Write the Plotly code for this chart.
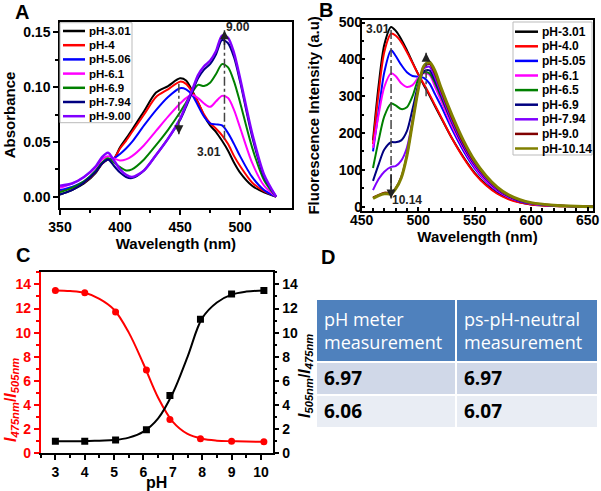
import plotly.graph_objects as go

W, H = 601, 491

# ---- panel A: absorbance spectra ----
wl_a = [350, 360, 370, 380, 385, 390, 395, 400, 405, 410, 420, 430, 440, 450,
        455, 460, 465, 470, 475, 480, 485, 490, 495, 500, 510, 520, 530]
ph_a = ["pH-3.01", "pH-4", "pH-5.06", "pH-6.1", "pH-6.9", "pH-7.94", "pH-9.00"]
abs_301 = [0.002, 0.006, 0.012, 0.022, 0.030, 0.034, 0.035, 0.045, 0.053, 0.061, 0.078, 0.095, 0.101, 0.108,
           0.106, 0.097, 0.086, 0.074, 0.065, 0.059, 0.051, 0.042, 0.031, 0.022, 0.010, 0.004, 0.0]
abs_4 = [0.005, 0.008, 0.013, 0.023, 0.030, 0.034, 0.035, 0.044, 0.051, 0.059, 0.075, 0.091, 0.098, 0.105,
         0.103, 0.096, 0.086, 0.075, 0.067, 0.062, 0.056, 0.048, 0.037, 0.028, 0.013, 0.005, 0.0]
abs_506 = [0.006, 0.009, 0.014, 0.024, 0.031, 0.034, 0.035, 0.039, 0.044, 0.050, 0.065, 0.079, 0.091, 0.099,
           0.098, 0.093, 0.083, 0.073, 0.067, 0.066, 0.065, 0.058, 0.048, 0.037, 0.018, 0.006, 0.0]
abs_61 = [0.008, 0.012, 0.018, 0.027, 0.034, 0.037, 0.035, 0.033, 0.034, 0.037, 0.047, 0.060, 0.073, 0.085,
          0.090, 0.093, 0.090, 0.085, 0.082, 0.087, 0.092, 0.090, 0.079, 0.063, 0.031, 0.010, 0.0]
abs_69 = [0.004, 0.008, 0.014, 0.024, 0.031, 0.035, 0.031, 0.027, 0.024, 0.025, 0.034, 0.047, 0.061, 0.077,
          0.086, 0.095, 0.102, 0.101, 0.104, 0.112, 0.121, 0.118, 0.105, 0.086, 0.045, 0.015, 0.0]
abs_794 = [0.002, 0.006, 0.013, 0.023, 0.030, 0.034, 0.028, 0.022, 0.018, 0.017, 0.024, 0.038, 0.053, 0.070,
           0.082, 0.095, 0.108, 0.116, 0.121, 0.130, 0.143, 0.140, 0.127, 0.105, 0.055, 0.018, 0.0]
abs_900 = [0.010, 0.012, 0.018, 0.028, 0.036, 0.040, 0.033, 0.025, 0.020, 0.018, 0.024, 0.038, 0.053, 0.071,
           0.084, 0.097, 0.111, 0.119, 0.124, 0.133, 0.147, 0.145, 0.131, 0.108, 0.058, 0.020, 0.0]
abs_all = [abs_301, abs_4, abs_506, abs_61, abs_69, abs_794, abs_900]
col_a = ["#000000", "#ff0000", "#0000ff", "#ff00ff", "#008000", "#000080", "#8000ff"]

# ---- panel B: fluorescence spectra ----
wl_b = [460, 465, 470, 476, 480, 485, 490, 495, 500, 505, 510, 515, 520,
        530, 540, 550, 560, 570, 580, 590, 600, 620, 640, 655]
ph_b = ["pH-3.01", "pH-4.0", "pH-5.05", "pH-6.1", "pH-6.5", "pH-6.9", "pH-7.94", "pH-9.0", "pH-10.14"]
fl_301 = [180, 330, 440, 488, 478, 455, 425, 392, 360, 330, 302, 272, 243, 185, 135, 92, 60, 37, 22, 12, 6, 2, 1, 0]
fl_40 = [170, 310, 420, 470, 465, 447, 420, 390, 360, 333, 305, 275, 245, 185, 133, 90, 58, 35, 20, 11, 6, 2, 1, 0]
fl_505 = [150, 260, 365, 425, 410, 385, 365, 355, 353, 350, 335, 305, 275, 210, 152, 104, 68, 42, 25, 14, 8, 3, 1, 0]
fl_61 = [160, 250, 325, 362, 355, 335, 325, 330, 350, 362, 358, 325, 290, 218, 158, 108, 70, 44, 26, 15, 8, 3, 1, 0]
fl_65 = [105, 180, 245, 280, 275, 265, 270, 300, 345, 365, 362, 335, 300, 228, 165, 115, 76, 48, 29, 17, 9, 3, 1, 0]
fl_69 = [70, 115, 155, 175, 175, 180, 205, 265, 330, 368, 370, 342, 305, 230, 165, 113, 75, 47, 28, 16, 9, 3, 1, 0]
fl_794 = [45, 75, 95, 108, 110, 125, 160, 235, 320, 375, 380, 350, 310, 232, 168, 115, 76, 48, 29, 17, 9, 3, 1, 0]
fl_90 = [25, 32, 38, 38, 50, 80, 140, 230, 320, 380, 388, 360, 318, 240, 173, 120, 80, 50, 30, 18, 10, 4, 1, 0]
fl_1014 = [22, 30, 35, 35, 48, 78, 138, 228, 318, 382, 393, 368, 325, 248, 180, 125, 84, 53, 32, 19, 11, 4, 1, 0]
fl_all = [fl_301, fl_40, fl_505, fl_61, fl_65, fl_69, fl_794, fl_90, fl_1014]
col_b = ["#000000", "#ff0000", "#0000ff", "#ff00ff", "#008000", "#000080", "#8000ff", "#800000", "#808000"]

# ---- panel C: intensity ratios ----
ph_c = [3, 4, 5.05, 6.1, 6.9, 7.94, 9.0, 10.1]
ratio_475_505 = [13.5, 13.3, 11.7, 6.9, 2.8, 1.2, 1.0, 0.95]
ratio_505_475 = [1.0, 1.0, 1.1, 1.95, 4.8, 11.1, 13.2, 13.5]
ph_fit = [3, 3.5, 4, 4.5, 5, 5.5, 6, 6.5, 7, 7.5, 8, 8.5, 9, 9.5, 10.1]
fit_475_505 = [13.5, 13.45, 13.3, 12.8, 11.9, 10.0, 7.4, 4.6, 2.6, 1.6, 1.2, 1.05, 1.0, 0.97, 0.95]
fit_505_475 = [1.0, 1.0, 1.0, 1.05, 1.1, 1.3, 1.8, 2.9, 5.0, 8.0, 11.2, 12.5, 13.15, 13.4, 13.5]

# ---- panel D: table ----
tbl_head = ["pH meter<br>measurement", "ps-pH-neutral<br>measurement"]
tbl_meter = ["6.97", "6.06"]
tbl_sensor = ["6.97", "6.07"]

FONT = "Arial, Liberation Sans, sans-serif"


def px(x):
    return x / W


def py(y):
    return 1 - y / H


fig = go.Figure()

for name, vals, c in zip(ph_a, abs_all, col_a):
    fig.add_trace(go.Scatter(x=wl_a, y=vals, mode="lines", name=name, xaxis="x", yaxis="y",
                             line=dict(color=c, width=2.5 if c == "#8000ff" else 2, shape="spline", smoothing=0.8),
                             showlegend=False))

for name, vals, c in zip(ph_b, fl_all, col_b):
    fig.add_trace(go.Scatter(x=wl_b, y=vals, mode="lines", name=name, xaxis="x2", yaxis="y2",
                             line=dict(color=c, width=3 if c == "#808000" else 2, shape="spline", smoothing=0.8),
                             showlegend=False))

fig.add_trace(go.Scatter(x=ph_fit, y=fit_475_505, mode="lines", xaxis="x3", yaxis="y3",
                         line=dict(color="#ff0000", width=2, shape="spline"), showlegend=False))
fig.add_trace(go.Scatter(x=ph_c, y=ratio_475_505, mode="markers", xaxis="x3", yaxis="y3",
                         marker=dict(color="#ff0000", size=7, symbol="circle"), showlegend=False))
fig.add_trace(go.Scatter(x=ph_fit, y=fit_505_475, mode="lines", xaxis="x3", yaxis="y4",
                         line=dict(color="#000000", width=2, shape="spline"), showlegend=False))
fig.add_trace(go.Scatter(x=ph_c, y=ratio_505_475, mode="markers", xaxis="x3", yaxis="y4",
                         marker=dict(color="#000000", size=7, symbol="square"), showlegend=False))

fig.add_trace(go.Table(
    domain=dict(x=[px(316), px(598)], y=[0.05, py(299)]),
    columnwidth=[140, 142],
    header=dict(values=tbl_head, fill_color="#4f81bd", align="left", height=28,
                line=dict(color="white", width=2),
                font=dict(family="Open Sans", size=18, color="white")),
    cells=dict(values=[tbl_meter, tbl_sensor], fill_color=[["#d0d8e8", "#e9edf4"]] * 2,
               align="left", height=33, line=dict(color="white", width=2),
               font=dict(family="Open Sans", size=19, color="black", weight="bold")),
))

tickf = dict(family=FONT, size=14, color="black", weight="bold")
titf = dict(family=FONT, size=15, color="black", weight="bold")
ax_common = dict(showline=True, linewidth=1.5, linecolor="black", mirror=True, ticks="outside",
                 ticklen=5, tickwidth=1.5, tickcolor="black", showgrid=False, zeroline=False,
                 tickfont=tickf, automargin=False)

fig.update_layout(
    width=W, height=H, margin=dict(l=0, r=0, t=0, b=0),
    plot_bgcolor="white", paper_bgcolor="white",
    xaxis=dict(ax_common, domain=[px(60), px(291.7)], range=[350, 543], anchor="y",
               dtick=50, minor=dict(ticks="outside", ticklen=3, dtick=25, tickcolor="black"),
               title=dict(text="Wavelength (nm)", font=titf, standoff=2)),
    yaxis=dict(ax_common, domain=[py(208.3), py(21.7)], range=[-0.0106, 0.1597], anchor="x",
               dtick=0.05, tickformat=".2f",
               minor=dict(ticks="outside", ticklen=3, dtick=0.025, tickcolor="black"),
               title=dict(text="Absorbance", font=titf, standoff=4)),
    xaxis2=dict(ax_common, domain=[px(361.7), px(593.3)], range=[450, 655], anchor="y2",
                dtick=50, ticks="inside", ticklen=4, ticklabelstandoff=-4,
                minor=dict(ticks="inside", ticklen=3, dtick=10, tickcolor="black"),
                title=dict(text="Wavelength (nm)", font=titf, standoff=2)),
    yaxis2=dict(ax_common, domain=[py(210.7), py(20)], range=[-11, 507], anchor="x2",
                dtick=100, ticks="inside", ticklen=4, ticklabelstandoff=-5,
                minor=dict(ticks="inside", ticklen=3, dtick=50, tickcolor="black"),
                title=dict(text="Fluorescence Intensity (a.u)", font=titf, standoff=16)),
    xaxis3=dict(ax_common, domain=[px(40.7), px(272.7)], range=[2.5, 10.4], anchor="y3",
                dtick=1, minor=dict(ticks="outside", ticklen=3, dtick=0.5, tickcolor="black"),
                title=dict(text="pH", font=dict(titf, size=16), standoff=0)),
    yaxis3=dict(ax_common, domain=[py(453.3), py(272.3)], range=[0, 15], anchor="x3", mirror=False,
                linecolor="#ff0000", tickcolor="#ff0000", dtick=2,
                tickfont=dict(tickf, color="#ff0000"),
                minor=dict(ticks="outside", ticklen=3, dtick=1, tickcolor="#ff0000")),
    yaxis4=dict(ax_common, domain=[py(453.3), py(272.3)], range=[0, 15], anchor="x3", mirror=False,
                overlaying="y3", side="right", dtick=2,
                minor=dict(ticks="outside", ticklen=3, dtick=1, tickcolor="black")),
)

shapes = []
annots = []

# panel C axis titles (they sit below centre in the original)
ctit = dict(family=FONT, size=16, weight="bold")
annots.append(dict(xref="paper", yref="paper", x=px(11), y=py(400), textangle=-90, showarrow=False,
                   xanchor="center", yanchor="middle",
                   text="<i>I</i><sub><i>475nm</i></sub>/<i>I</i><sub><i>505nm</i></sub>",
                   font=dict(ctit, color="#ff0000")))
annots.append(dict(xref="paper", yref="paper", x=px(305), y=py(376), textangle=-90, showarrow=False,
                   xanchor="center", yanchor="middle",
                   text="<i>I</i><sub><i>505nm</i></sub>/<i>I</i><sub><i>475nm</i></sub>",
                   font=dict(ctit, color="black")))

# manual legends (compact spacing like the original)
shapes.append(dict(type="rect", xref="paper", yref="paper", x0=px(60), x1=px(132), y0=py(122.7), y1=py(22.7),
                   line=dict(color="#bbbbbb", width=1)))
for i, (name, c) in enumerate(zip(ph_a, col_a)):
    yy = 31 + i * 14.2
    shapes.append(dict(type="line", xref="paper", yref="paper", x0=px(63), x1=px(85), y0=py(yy), y1=py(yy),
                       line=dict(color=c, width=2.5)))
    annots.append(dict(xref="paper", yref="paper", x=px(87), y=py(yy), text=name, showarrow=False,
                       xanchor="left", yanchor="middle", font=dict(family=FONT, size=11.5, color="black", weight="bold")))

shapes.append(dict(type="rect", xref="paper", yref="paper", x0=px(513), x1=px(592), y0=py(155), y1=py(22),
                   line=dict(color="#bbbbbb", width=1)))
for i, (name, c) in enumerate(zip(ph_b, col_b)):
    yy = 31.7 + i * 14.6
    shapes.append(dict(type="line", xref="paper", yref="paper", x0=px(515), x1=px(538), y0=py(yy), y1=py(yy),
                       line=dict(color=c, width=2.5)))
    annots.append(dict(xref="paper", yref="paper", x=px(540), y=py(yy), text=name, showarrow=False,
                       xanchor="left", yanchor="middle", font=dict(family=FONT, size=12, color="black", weight="bold")))

# dash-dot arrows
arrows = [("x", "y", 449, 0.103, 0.057), ("x", "y", 487, 0.052, 0.152),
          ("x2", "y2", 476, 480, 22), ("x2", "y2", 507, 300, 418)]
for xr, yr, xv, y0, y1 in arrows:
    shapes.append(dict(type="line", xref=xr, yref=yr, x0=xv, x1=xv, y0=y0, y1=y1,
                       line=dict(color="#444444", width=1.5, dash="dashdot")))
    annots.append(dict(xref=xr, yref=yr, x=xv, y=y1, ax=xv, ay=y0 + (y1 - y0) * 0.85, axref=xr, ayref=yr,
                       text="", showarrow=True, arrowhead=2, arrowsize=1.2, arrowwidth=1.5, arrowcolor="#222222"))

lab = dict(family=FONT, size=12, color="#222222", weight="bold")
annots += [
    dict(xref="x", yref="y", x=498, y=0.155, text="9.00", showarrow=False, font=lab),
    dict(xref="x", yref="y", x=474, y=0.041, text="3.01", showarrow=False, font=lab),
    dict(xref="x2", yref="y2", x=464, y=483, text="3.01", showarrow=False, font=lab),
    dict(xref="x2", yref="y2", x=490, y=18, text="10.14", showarrow=False, font=lab),
]

letter = dict(family=FONT, size=20, color="black", weight="bold")
for t, x, y in [("A", 22, 12), ("B", 326, 10), ("C", 23, 255), ("D", 328, 257)]:
    annots.append(dict(xref="paper", yref="paper", x=px(x), y=py(y), text=t, showarrow=False,
                       xanchor="center", yanchor="middle", font=letter))

fig.update_layout(shapes=shapes, annotations=annots)

# the page body has a default 8px margin; drop it so the figure sits at 0,0
fig.write_html("out.html", config={"displayModeBar": False},
               post_script="document.body.style.margin='0';")
